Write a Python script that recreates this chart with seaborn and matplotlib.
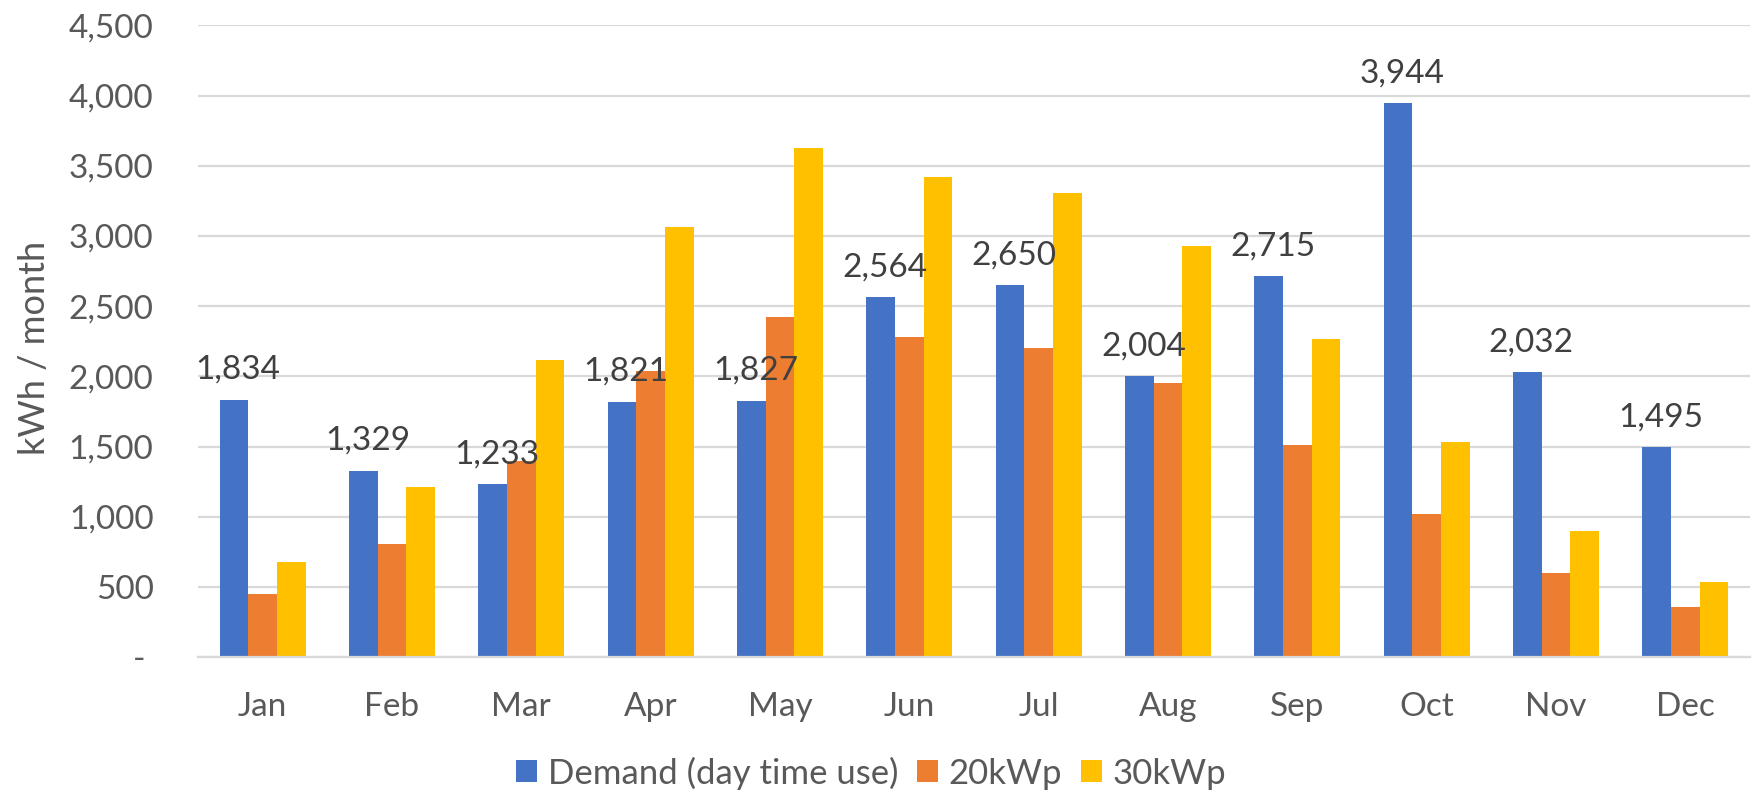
import matplotlib
matplotlib.use("Agg")
import matplotlib.pyplot as plt
import matplotlib.ticker as mticker
from matplotlib.patches import Patch
import numpy as np
import pandas as pd
import seaborn as sns

months = ["Jan", "Feb", "Mar", "Apr", "May", "Jun",
          "Jul", "Aug", "Sep", "Oct", "Nov", "Dec"]
demand = [1834, 1329, 1233, 1821, 1827, 2564, 2650, 2004, 2715, 3944, 2032, 1495]
pv_20kwp = [452, 808, 1400, 2040, 2421, 2280, 2203, 1952, 1510, 1022, 600, 360]
pv_30kwp = [678, 1212, 2118, 3062, 3628, 3421, 3303, 2928, 2266, 1534, 903, 540]
series_names = ["Demand (day time use)", "20kWp", "30kWp"]
y_ticks = [0, 500, 1000, 1500, 2000, 2500, 3000, 3500, 4000, 4500]

colors = ["#4472C4", "#ED7D31", "#FFC000"]
grid_col = "#D9D9D9"
text_col = "#595959"
label_col = "#404040"

df = pd.DataFrame({
    "month": months * 3,
    "series": sum([[s] * len(months) for s in series_names], []),
    "value": demand + pv_20kwp + pv_30kwp,
})

sns.set_theme(style="white")
plt.rcParams["font.family"] = ["Lato", "DejaVu Sans"]

fig = plt.figure(figsize=(17.53, 7.92), dpi=100)
ax = fig.add_axes([198 / 1753, 0.170, 1552 / 1753, 0.798])

sns.barplot(data=df, x="month", y="value", hue="series", order=months,
            hue_order=series_names, palette=colors, width=2 / 3,
            saturation=1, edgecolor="none", linewidth=0, legend=False, ax=ax)

ax.set_ylim(0, 4500)
ax.set_xlim(-0.5, len(months) - 0.5)
ax.set_yticks(y_ticks)
ax.yaxis.set_major_formatter(mticker.FuncFormatter(
    lambda v, _: "- " if v == 0 else f"{v:,.0f}"))
ax.yaxis.grid(True, color=grid_col, linewidth=1.6)
ax.set_axisbelow(True)

for side in ["left", "right", "top"]:
    ax.spines[side].set_visible(False)
ax.spines["bottom"].set_color(grid_col)
ax.spines["bottom"].set_linewidth(1.6)

# category dividers on the x axis, as tick marks between months
ax.set_xticks(np.arange(len(months)))
ax.set_xticklabels(months)
ax.set_xticks(np.arange(-0.5, len(months), 1.0), minor=True)
ax.tick_params(axis="x", which="major", length=0, pad=25)
ax.tick_params(axis="x", which="minor", length=8.6, width=1.6, color=grid_col,
               direction="out")
ax.tick_params(axis="y", length=0, pad=32)
for lab in ax.get_xticklabels() + ax.get_yticklabels():
    lab.set_fontsize(24)
    lab.set_color(text_col)

ax.set_xlabel("")
ax.set_ylabel("kWh / month", fontsize=26, color=text_col)
ax.yaxis.set_label_coords(-0.095, 0.49)

# value labels above the demand bars
for bar, v in zip(ax.containers[0], demand):
    ax.annotate(f"{v:,.0f}",
                xy=(bar.get_x() + bar.get_width() / 2, bar.get_height()),
                xytext=(3, 15), textcoords="offset points",
                ha="center", va="baseline", fontsize=24, color=label_col)

handles = [Patch(facecolor=c, edgecolor="none") for c in colors]
fig.legend(handles, series_names, loc="center", ncol=3,
           bbox_to_anchor=(0.497, 0.024), frameon=False, fontsize=25,
           labelcolor=text_col, handlelength=0.6, handleheight=0.6,
           handletextpad=0.3, columnspacing=0.55)

fig.savefig("out.png", dpi=100)
